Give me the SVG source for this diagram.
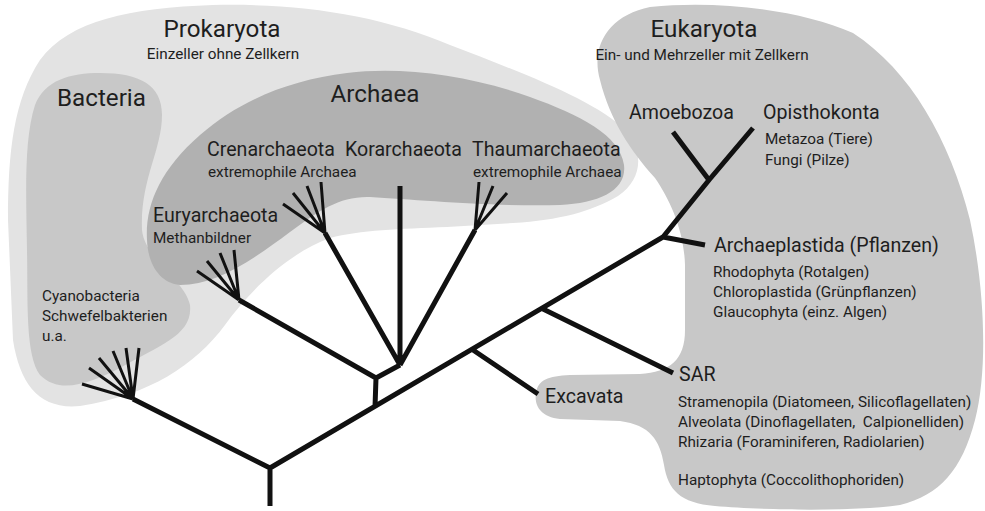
<svg xmlns="http://www.w3.org/2000/svg" width="985" height="511" viewBox="0 0 985 511">
<style>
text{font-family:Roboto,"Liberation Sans",sans-serif;fill:#1e1e1e}
.h{font-size:24.2px}
.m{font-size:19.6px}
.s{font-size:15.3px}
.c{text-anchor:middle}
.br{stroke:#111;stroke-width:5;fill:none;stroke-linecap:butt;stroke-linejoin:round}
.fn{stroke:#111;stroke-width:3;fill:none}
</style>
<rect width="985" height="511" fill="#fff"/>
<g id="prokaryota">
<path fill="#e3e3e3" d="M8,220 C8,150 14,100 40,60 C70,20 130,8 213,5 C300,3 380,15 450,45 C520,72 595,100 625,130 C645,152 642,180 618,196 C590,212 560,220 513,223 L447,227 C400,229 360,230 330,238 C290,252 250,290 225,325 C195,365 150,395 80,406 C40,410 20,385 13,340 Z"/>
<text class="h c" x="222" y="37">Prokaryota</text>
<text class="s c" x="223" y="59">Einzeller ohne Zellkern</text>
</g>
<g id="bacteria">
<path fill="#c8c8c8" d="M100,73 C140,73 162,85 162,115 C162,150 140,180 142,230 C145,260 185,280 190,305 C193,335 160,345 120,368 C90,383 60,395 40,375 C25,355 28,300 27,250 C26,190 24,140 35,105 C45,80 70,73 100,73 Z"/>
<text class="h" x="57" y="106">Bacteria</text>
<text class="s" x="42" y="301">Cyanobacteria</text>
<text class="s" x="42" y="321">Schwefelbakterien</text>
<text class="s" x="42" y="341">u.a.</text>
</g>
<g id="archaea">
<path fill="#b1b1b1" d="M147,240 C145,205 160,170 200,135 C240,100 290,80 347,73 C400,66 470,75 530,97 C580,115 620,135 624,165 C627,190 600,203 560,205 C500,207 420,200 370,197 C340,196 320,210 290,232 C250,262 215,285 180,285 C160,283 148,265 147,240 Z"/>
<text class="h c" x="375" y="102">Archaea</text>
</g>
<g id="crenarchaeota">
<text class="m" x="207" y="156">Crenarchaeota</text>
<text class="s" x="208" y="177">extremophile Archaea</text>
</g>
<g id="korarchaeota">
<text class="m" x="345" y="156">Korarchaeota</text>
</g>
<g id="thaumarchaeota">
<text class="m" x="472" y="156">Thaumarchaeota</text>
<text class="s" x="473" y="177">extremophile Archaea</text>
</g>
<g id="euryarchaeota">
<text class="m" x="153" y="222">Euryarchaeota</text>
<text class="s" x="153" y="243">Methanbildner</text>
</g>
<g id="eukaryota">
<path fill="#c8c8c8" d="M650,7 C720,0 800,10 853,33 C910,70 950,140 970,220 C985,290 988,370 975,420 C962,470 940,495 900,505 C850,512 760,510 715,506 C680,503 668,490 664,465 C660,440 650,425 620,421 L560,419 C540,417 534,405 536,393 C538,380 548,376 570,375 L640,374 C670,372 685,360 685,330 L685,265 C684,230 670,200 655,178 C630,150 610,120 600,80 C590,45 610,15 650,7 Z"/>
<text class="h c" x="704" y="37">Eukaryota</text>
<text class="s c" x="702" y="60">Ein- und Mehrzeller mit Zellkern</text>
</g>
<g id="amoebozoa"><text class="m" x="629" y="119">Amoebozoa</text></g>
<g id="opisthokonta">
<text class="m" x="763" y="119">Opisthokonta</text>
<text class="s" x="765" y="144">Metazoa (Tiere)</text>
<text class="s" x="765" y="165">Fungi (Pilze)</text>
</g>
<g id="archaeplastida">
<text class="m" x="714" y="252">Archaeplastida (Pflanzen)</text>
<text class="s" x="713" y="277">Rhodophyta (Rotalgen)</text>
<text class="s" x="713" y="297">Chloroplastida (Grünpflanzen)</text>
<text class="s" x="713" y="317">Glaucophyta (einz. Algen)</text>
</g>
<g id="sar">
<text class="m" x="679" y="381">SAR</text>
<text class="s" x="678" y="407">Stramenopila (Diatomeen, Silicoflagellaten)</text>
<text class="s" x="678" y="427" xml:space="preserve" style="white-space:pre">Alveolata (Dinoflagellaten,  Calpionelliden)</text>
<text class="s" x="678" y="447">Rhizaria (Foraminiferen, Radiolarien)</text>
<text class="s" x="678" y="485">Haptophyta (Coccolithophoriden)</text>
</g>
<g id="excavata"><text class="m" x="545" y="403">Excavata</text></g>
<g id="connectors">
<path class="br" d="M270,506 L270,468 L133,399 M270,468 L663,237 L709,180 L753,128 M709,180 L673,132 M663,237 L705,245 M543,309 L673,373 M473,350 L538,394 M375,407 L376,378 L400,365 M376,378 L239,300 M400,365 L325,233 M400,365 L400,186 M400,365 L475,230"/>
<path class="fn" d="M133,399 L82,384 M133,399 L89,368 M133,399 L99,358 M133,399 L113,351 M133,399 L126,348 M133,399 L139,348 M239,300 L197,271 M239,300 L207,261 M239,300 L220,253 M239,300 L234,250 M325,233 L283,204 M325,233 L293,193 M325,233 L307,186 M325,233 L321,182 M475,230 L479,182 M475,230 L493,186 M475,230 L507,193"/>
</g>
</svg>
